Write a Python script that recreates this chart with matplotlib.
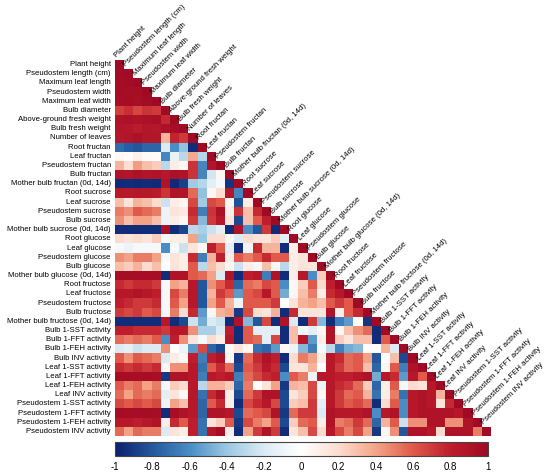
import numpy as np
import matplotlib
matplotlib.use('Agg')
import matplotlib.pyplot as plt
from matplotlib.colors import LinearSegmentedColormap

plt.rcParams['font.family'] = ['Liberation Sans', 'DejaVu Sans']

variables = [
    'Plant height', 'Pseudostem length (cm)', 'Maximum leaf length', 'Pseudostem width',
    'Maximum leaf width', 'Bulb diameter', 'Above-ground fresh weight', 'Bulb fresh weight',
    'Number of leaves', 'Root fructan', 'Leaf fructan', 'Pseudostem fructan', 'Bulb fructan',
    'Mother bulb fructan (0d, 14d)', 'Root sucrose', 'Leaf sucrose', 'Pseudostem sucrose',
    'Bulb sucrose', 'Mother bulb sucrose (0d, 14d)', 'Root glucose', 'Leaf glucose',
    'Pseudostem glucose', 'Bulb glucose', 'Mother bulb glucose (0d, 14d)', 'Root fructose',
    'Leaf fructose', 'Pseudostem fructose', 'Bulb fructose', 'Mother bulb fructose (0d, 14d)',
    'Bulb 1-SST activity', 'Bulb 1-FFT activity', 'Bulb 1-FEH activity', 'Bulb INV activity',
    'Leaf 1-SST activity', 'Leaf 1-FFT activity', 'Leaf 1-FEH activity', 'Leaf INV activity',
    'Pseudostem 1-SST activity', 'Pseudostem 1-FFT activity', 'Pseudostem 1-FEH activity',
    'Pseudostem INV activity',
]

# lower triangle, one list per variable (correlations with the variables before it)
plant_height = []
pseudostem_length = [0.97]
max_leaf_length = [0.96, 0.97]
pseudostem_width = [0.96, 0.95, 0.95]
max_leaf_width = [0.95, 0.96, 0.94, 0.97]
bulb_diameter = [0.68, 0.74, 0.66, 0.72, 0.7]
above_fresh_weight = [0.9, 0.92, 0.9, 0.91, 0.93, 0.76]
bulb_fresh_weight = [0.88, 0.86, 0.82, 0.87, 0.86, 0.92, 0.95]
number_of_leaves = [0.86, 0.88, 0.92, 0.87, 0.87, 0.34, 0.78, 0.7]
root_fructan = [-0.72, -0.78, -0.8, -0.75, -0.75, -0.2, -0.6, -0.42, -0.95]
leaf_fructan = [0.04, 0.02, 0.08, 0.03, 0.02, -0.62, -0.12, -0.3, 0.38, -0.32]
pseudo_fructan = [0.35, 0.18, 0.42, 0.3, 0.25, -0.3, 0.1, 0.05, 0.72, -0.62, 0.88]
bulb_fructan = [0.9, 0.88, 0.92, 0.88, 0.9, 0.85, 0.92, 0.9, 0.72, -0.62, -0.22, 0.05]
mother_fructan = [-0.96, -0.95, -0.96, -0.95, -0.96, 0.9, -0.96, -0.88, -0.38, -0.32, -0.15,
                  -0.05, -0.92]
root_sucrose = [0.85, 0.84, 0.86, 0.85, 0.83, 0.72, 0.9, 0.88, 0.55, -0.42, 0.05, 0.18, 0.86,
                -0.62]
leaf_sucrose = [0.3, 0.15, 0.35, 0.3, 0.2, -0.25, 0.1, 0.05, 0.65, -0.38, 0.65, 0.6, 0.05,
                -0.82, 0.1]
pseudo_sucrose = [0.5, 0.45, 0.6, 0.55, 0.5, -0.1, 0.15, 0.12, 0.75, -0.65, 0.72, 0.92, 0.1,
                  0.72, 0.3, 0.75]
bulb_sucrose = [0.45, 0.3, 0.4, 0.4, 0.3, -0.1, 0.1, 0.05, 0.7, -0.45, 0.7, 0.85, 0.15, -0.85,
                0.3, 0.6, 0.8]
mother_sucrose = [-0.95, -0.95, -0.95, -0.95, -0.95, 0.92, -0.95, -0.86, -0.3, -0.35, -0.25,
                  -0.15, -0.95, 0.9, -0.6, -0.8, 0.7, -0.95]
root_glucose = [0.2, 0.15, 0.2, 0.15, 0.25, -0.05, 0.1, 0.1, 0.4, -0.4, 0.2, 0.2, 0.05, -0.2,
                0.2, 0.15, 0.15, 0.25, -0.15]
leaf_glucose = [-0.05, -0.1, -0.05, -0.05, -0.05, -0.6, -0.05, -0.25, 0.15, 0.05, 0.8, 0.6,
                -0.15, -0.95, -0.1, 0.75, 0.35, 0.35, -0.95, 0.1]
pseudo_glucose = [0.45, 0.4, 0.5, 0.5, 0.4, -0.05, 0.15, 0.1, 0.75, -0.65, 0.35, 0.8, 0.1, 0.6,
                  0.5, 0.6, 0.75, 0.6, 0.6, 0.1, 0.15]
bulb_glucose = [0.3, 0.25, 0.35, 0.2, 0.3, 0.0, 0.15, 0.1, 0.6, -0.3, 0.3, 0.2, 0.05, -0.25,
                0.1, -0.05, 0.3, 0.05, -0.3, 0.1, 0.15, 0.15]
mother_glucose = [0.95, 0.95, 0.95, 0.95, 0.95, -0.95, 0.9, 0.9, 0.6, 0.55, 0.4, -0.2, 0.9,
                  -0.95, 0.8, 0.85, -0.65, 0.9, -0.95, 0.1, 0.85, -0.6, 0.25]
root_fructose = [0.75, 0.7, 0.75, 0.75, 0.7, -0.05, 0.4, 0.35, 0.85, -0.8, 0.45, 0.6, 0.75,
                 -0.75, 0.55, 0.5, 0.65, 0.6, -0.6, 0.05, 0.25, 0.6, 0.2, 0.8]
leaf_fructose = [0.85, 0.85, 0.9, 0.85, 0.8, -0.05, 0.65, 0.5, 0.85, -0.8, 0.35, 0.7, 0.6,
                 -0.55, 0.6, 0.65, 0.85, 0.6, -0.5, 0.05, 0.3, 0.5, 0.1, 0.75, 0.85]
pseudo_fructose = [0.8, 0.75, 0.7, 0.7, 0.75, -0.05, 0.6, 0.4, 0.85, -0.8, 0.4, 0.6, 0.35, -0.1,
                   0.6, 0.6, 0.6, 0.7, 0.0, 0.15, 0.35, 0.4, 0.3, 0.6, 0.7, 0.6]
bulb_fructose = [0.7, 0.65, 0.7, 0.6, 0.65, -0.05, 0.5, 0.2, 0.75, -0.55, 0.05, 0.35, 0.4, -0.9,
                 0.65, 0.2, 0.15, 0.35, -0.95, 0.75, 0.15, 0.15, 0.15, 0.9, 0.1, 0.6, 0.75]
mother_fructose = [-0.95, -0.95, -0.95, -0.95, -0.95, 0.85, -0.95, -0.85, -0.25, -0.5, -0.2,
                   -0.25, -0.95, 0.9, -0.45, -0.8, 0.65, -0.95, 0.9, -0.2, -0.95, 0.7, -0.45,
                   -0.95, -0.65, -0.55, 0.0, -0.92]
bulb_sst = [0.8, 0.8, 0.75, 0.75, 0.75, 0.7, 0.85, 0.85, 0.45, -0.35, -0.35, -0.2, 0.8, -0.95,
            0.6, -0.15, -0.15, -0.15, -0.95, 0.3, -0.05, -0.15, 0.05, 0.9, 0.05, 0.3, 0.45,
            0.55, -0.95]
bulb_fft = [0.55, 0.5, 0.55, 0.5, 0.6, -0.6, 0.8, 0.45, 0.15, -0.05, 0.2, 0.1, 0.85, -0.95,
            0.6, 0.55, -0.15, 0.65, -0.95, 0.3, 0.85, -0.55, 0.1, 0.9, 0.25, 0.15, 0.3,
            0.3, -0.95, 0.6]
bulb_feh = [-0.2, -0.15, -0.25, -0.2, -0.2, 0.45, 0.0, -0.1, -0.55, 0.65, -0.75, -0.85, 0.05,
            0.15, 0.05, -0.7, -0.75, -0.55, 0.05, -0.1, -0.45, -0.65, -0.05, -0.3, -0.65, -0.5,
            -0.45, 0.0, 0.0, 0.35, -0.2]
bulb_inv = [0.6, 0.45, 0.6, 0.55, 0.5, -0.2, 0.1, 0.05, 0.8, -0.65, 0.8, 0.9, 0.05, -0.9,
            0.55, 0.75, 0.9, 0.8, -0.95, 0.2, 0.5, 0.4, 0.1, 0.85, 0.75, 0.55, 0.6,
            0.4, -0.8, 0.0, 0.3, -0.85]
leaf_sst = [0.75, 0.7, 0.75, 0.7, 0.75, 0.05, 0.45, 0.45, 0.85, -0.7, 0.6, 0.75, 0.55, -0.85,
            0.6, 0.7, 0.85, 0.75, -0.85, 0.15, 0.15, 0.35, 0.0, 0.85, 0.7, 0.55, 0.6,
            0.3, -0.75, 0.05, 0.6, -0.65, 0.9]
leaf_fft = [0.95, 0.95, 0.94, 0.95, 0.94, -0.9, 0.9, 0.9, 0.85, -0.65, 0.85, 0.8, 0.85, -0.65,
            0.55, 0.65, 0.75, 0.8, -0.6, 0.6, 0.5, -0.1, 0.85, 0.85, 0.8, 0.8, 0.85,
            0.9, -0.5, 0.85, 0.75, -0.55, 0.85, 0.6]
leaf_feh = [0.6, 0.5, 0.55, 0.4, 0.5, -0.05, 0.25, 0.2, 0.85, -0.3, 0.35, 0.35, 0.25, -0.75,
            0.5, 0.0, 0.15, 0.4, -0.9, 0.35, 0.3, 0.65, -0.1, 0.85, 0.75, 0.7, 0.55,
            0.25, -0.75, 0.1, 0.6, -0.05, 0.2, 0.15, 0.85]
leaf_inv = [0.55, 0.4, 0.55, 0.5, 0.55, -0.15, 0.15, 0.05, 0.85, -0.7, 0.75, 0.9, 0.1, -0.85,
            0.55, 0.7, 0.9, 0.9, -0.85, 0.15, 0.25, 0.65, 0.05, 0.85, 0.7, 0.55, 0.6,
            0.35, -0.7, 0.1, 0.5, -0.7, 0.85, 0.9, 0.85, 0.35]
pseudo_sst = [0.65, 0.6, 0.65, 0.6, 0.65, -0.1, 0.4, 0.3, 0.85, -0.75, 0.6, 0.75, 0.1, -0.95,
              0.65, 0.75, 0.85, 0.65, -0.85, 0.25, 0.3, 0.7, -0.15, 0.85, 0.7, 0.6, 0.65,
              0.55, -0.95, 0.2, 0.6, -0.6, 0.85, 0.9, 0.85, 0.15, 0.75]
pseudo_fft = [0.96, 0.95, 0.95, 0.96, 0.95, -0.95, 0.95, 0.9, 0.85, -0.75, 0.9, 0.9, 0.85, -0.85,
              0.55, 0.6, 0.65, 0.9, -0.9, 0.55, 0.7, 0.7, -0.2, 0.9, 0.85, 0.85, 0.85,
              0.9, -0.6, 0.85, 0.9, -0.6, 0.85, 0.9, 0.9, 0.9, 0.9, 0.85]
pseudo_feh = [0.85, 0.85, 0.8, 0.85, 0.9, 0.1, 0.75, 0.6, 0.8, -0.7, 0.15, 0.25, 0.6, -0.9,
              0.65, 0.5, 0.4, 0.6, -0.85, 0.25, 0.55, 0.6, 0.1, 0.9, 0.5, 0.55, 0.7,
              0.55, -0.75, 0.35, 0.6, -0.25, 0.45, 0.45, 0.9, 0.9, 0.45, 0.45, 0.9]
pseudo_inv = [0.55, 0.4, 0.55, 0.5, 0.5, -0.2, 0.15, 0.1, 0.8, -0.7, 0.85, 0.95, 0.1, -0.95,
              0.4, 0.7, 0.9, 0.7, -0.95, 0.15, 0.3, 0.65, 0.2, 0.85, 0.65, 0.5, 0.65,
              0.4, -0.9, 0.05, 0.45, -0.8, 0.9, 0.9, 0.85, 0.2, 0.9, 0.9, 0.9, 0.5]

lower = [plant_height, pseudostem_length, max_leaf_length, pseudostem_width, max_leaf_width,
         bulb_diameter, above_fresh_weight, bulb_fresh_weight, number_of_leaves,
         root_fructan, leaf_fructan, pseudo_fructan, bulb_fructan, mother_fructan,
         root_sucrose, leaf_sucrose, pseudo_sucrose, bulb_sucrose, mother_sucrose,
         root_glucose, leaf_glucose, pseudo_glucose, bulb_glucose, mother_glucose,
         root_fructose, leaf_fructose, pseudo_fructose, bulb_fructose, mother_fructose,
         bulb_sst, bulb_fft, bulb_feh, bulb_inv, leaf_sst, leaf_fft, leaf_feh, leaf_inv,
         pseudo_sst, pseudo_fft, pseudo_feh, pseudo_inv]

n = len(variables)
mat = np.full((n, n), np.nan)
for i, row in enumerate(lower):
    mat[i, :i] = row
    mat[i, i] = 1.0

# blue - white - red palette, red end a bit brighter than brewer RdBu
cmap = LinearSegmentedColormap.from_list('corr', [
    '#0C1F6E', '#24589E', '#4A8DC4', '#9BC8E2', '#DCEAF3', '#FFFFFF',
    '#FCDCCF', '#F4A488', '#E0594A', '#BE1E2D', '#A00A24'])

fig = plt.figure(figsize=(5.5, 4.75), dpi=100)
ax = fig.add_axes([115/550, 39/475, 376/550, 376/475])
im = ax.imshow(np.ma.masked_invalid(mat), cmap=cmap, vmin=-1, vmax=1,
               aspect='auto', interpolation='nearest')
ax.set_xlim(-0.5, n - 0.5)
ax.set_ylim(n - 0.5, -0.5)
ax.axis('off')

fs = 5.6
for i, name in enumerate(variables):
    ax.text(-0.95, i, name, ha='right', va='center', fontsize=fs)
    ax.text(i - 0.15, i - 0.6, name, ha='left', va='bottom', fontsize=fs,
            rotation=45, rotation_mode='anchor')

cax = fig.add_axes([115/550, 19/475, 373/550, 14.5/475])
cb = fig.colorbar(im, cax=cax, orientation='horizontal', ticks=np.arange(-1, 1.01, 0.2))
cb.ax.set_xticklabels(['-1', '-0.8', '-0.6', '-0.4', '-0.2', '0', '0.2', '0.4', '0.6', '0.8', '1'])
cb.ax.tick_params(length=0, labelsize=7, pad=4)
cb.outline.set_edgecolor('#444444')
cb.outline.set_linewidth(0.8)

fig.savefig('out.png', dpi=100)
